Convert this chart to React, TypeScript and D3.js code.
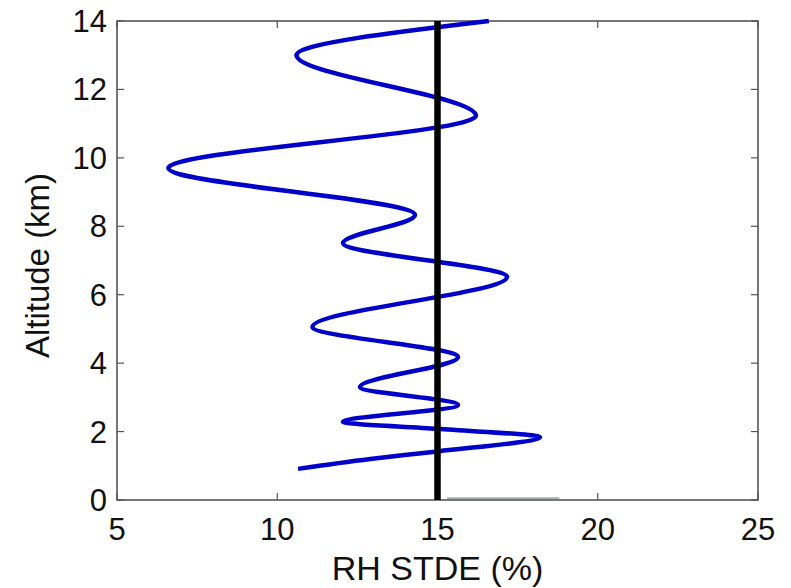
import React from "react";
import * as d3 from "d3";

const rhStde = [10.65, 12.9, 15.0, 18.2, 15.0, 12.05, 15.64, 12.58, 15.64, 11.1, 17.17, 12.05, 14.3, 6.6, 16.2, 10.6, 16.6];
const altitude = [0.91, 1.2, 1.42, 1.84, 2.08, 2.28, 2.78, 3.3, 4.18, 5.06, 6.52, 7.51, 8.33, 9.7, 11.23, 13.0, 14.0];
const refValue = 15;
const xTicks = [5, 10, 15, 20, 25];
const yTicks = [0, 2, 4, 6, 8, 10, 12, 14];
const bottomSegX = [15.3, 18.8];

const W = 791, H = 588;
const left = 117, right = 758, top = 21, bottom = 500;

export default function App() {
  const x = d3.scaleLinear().domain([5, 25]).range([left, right]);
  const y = d3.scaleLinear().domain([0, 14]).range([bottom, top]);
  const pts = rhStde.map((v, i) => ({ x: v, y: altitude[i] }));
  const path = d3.line<{ x: number; y: number }>()
    .x(d => x(d.x)).y(d => y(d.y))
    .curve(d3.curveMonotoneY)(pts);
  const font = "'Liberation Sans', Arial, Helvetica, sans-serif";
  const frame = "#555";
  return (
    <svg width={W} height={H} style={{ position: "absolute", left: 0, top: 0, background: "#fff" }}>
      <rect x={left} y={top} width={right - left} height={bottom - top} fill="#fff" stroke={frame} strokeWidth={1.6} />
      {xTicks.map(t => (
        <g key={"x" + t}>
          <line x1={x(t)} x2={x(t)} y1={bottom} y2={bottom - 7} stroke={frame} strokeWidth={1.2} />
          <line x1={x(t)} x2={x(t)} y1={top} y2={top + 7} stroke={frame} strokeWidth={1.2} />
          <text x={x(t)} y={bottom + 40} textAnchor="middle" fontFamily={font} fontSize={31} fill="#111">{t}</text>
        </g>
      ))}
      {yTicks.map(t => (
        <g key={"y" + t}>
          <line x1={left} x2={left + 7} y1={y(t)} y2={y(t)} stroke={frame} strokeWidth={1.2} />
          <line x1={right} x2={right - 7} y1={y(t)} y2={y(t)} stroke={frame} strokeWidth={1.2} />
          <text x={107} y={y(t) + 11} textAnchor="end" fontFamily={font} fontSize={31} fill="#111">{t}</text>
        </g>
      ))}
      <line x1={x(bottomSegX[0])} x2={x(bottomSegX[1])} y1={y(0.05)} y2={y(0.05)} stroke="#6a7a70" strokeWidth={2} opacity={0.6} />
      <path d={path || ""} fill="none" stroke="#0000c8" strokeWidth={4.5} />
      <line x1={x(refValue)} x2={x(refValue)} y1={y(0)} y2={y(14)} stroke="#000" strokeWidth={6.5} />
      <text x={x(15)} y={580} textAnchor="middle" fontFamily={font} fontSize={34} fill="#111">RH STDE (%)</text>
      <text transform={`translate(49,${(top + bottom) / 2 + 5}) rotate(-90)`} textAnchor="middle" fontFamily={font} fontSize={33} fill="#111">Altitude (km)</text>
    </svg>
  );
}
